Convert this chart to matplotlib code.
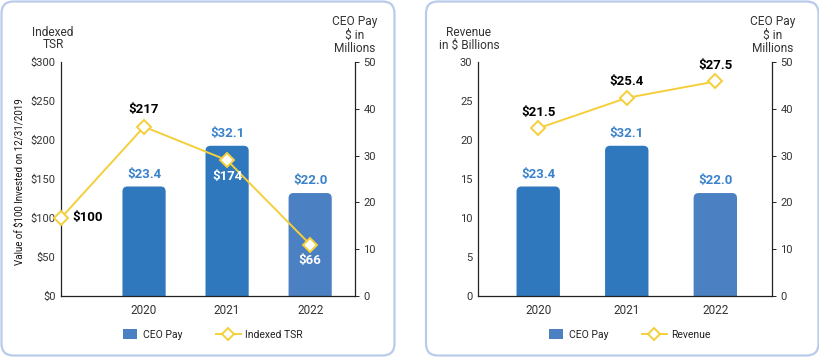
import matplotlib
matplotlib.use("Agg")
import matplotlib.pyplot as plt
from matplotlib.patches import FancyBboxPatch, Patch, Rectangle
from matplotlib.lines import Line2D
from matplotlib.legend_handler import HandlerPatch
from matplotlib.transforms import IdentityTransform
from matplotlib.ticker import FuncFormatter

plt.rcParams['font.family'] = ['Roboto', 'DejaVu Sans']
plt.rcParams['text.parse_math'] = False

# ---------------- data ----------------
pay_years = ['2020', '2021', '2022']
ceo_pay = [23.4, 32.1, 22.0]
tsr_years = ['2019', '2020', '2021', '2022']
tsr = [100, 217, 174, 66]
rev_years = ['2020', '2021', '2022']
revenue = [21.5, 25.4, 27.5]

left_ticks = [0, 50, 100, 150, 200, 250, 300]
rev_ticks = [0, 5, 10, 15, 20, 25, 30]
pay_ticks = [0, 10, 20, 30, 40, 50]

# ---------------- style ----------------
BAR_COLORS = ['#2F78BE', '#2F78BE', '#4B80C2']
LABEL_BLUE = '#3A82CA'
YELLOW = '#F5CF3A'
TXT = '#333333'
BORDER = '#B9CBEA'

W, H = 820, 357
fig = plt.figure(figsize=(W / 100, H / 100), dpi=100)

# panel borders
for x0, x1 in [(1.5, 394.5), (426, 818.5)]:
    fig.add_artist(FancyBboxPatch((x0, 1.5), x1 - x0, H - 3,
                                  boxstyle="round,pad=0,rounding_size=12",
                                  transform=IdentityTransform(),
                                  facecolor='white', edgecolor=BORDER, lw=1.6, zorder=-10))

def px_to_fig(x, y):
    return x / W, 1 - y / H

ax_top, ax_bot = 62, 296


def make_axes(xl, xr):
    ax = fig.add_axes([xl / W, 1 - ax_bot / H, (xr - xl) / W, (ax_bot - ax_top) / H])
    ax2 = ax.twinx()
    ax.set_zorder(ax2.get_zorder() + 1)
    ax.patch.set_visible(False)
    for a in (ax, ax2):
        for s in a.spines.values():
            s.set_visible(False)
    ax.spines['left'].set_visible(True)
    ax.spines['bottom'].set_visible(True)
    ax2.spines['right'].set_visible(True)
    for s in ('left', 'bottom'):
        ax.spines[s].set_color('#222222')
        ax.spines[s].set_linewidth(0.9)
    ax2.spines['right'].set_color('#222222')
    ax2.spines['right'].set_linewidth(0.9)
    ax.tick_params(axis='y', length=0, pad=4, labelsize=8, labelcolor=TXT)
    ax.tick_params(axis='x', length=0, pad=6, labelsize=8.5, labelcolor=TXT)
    ax2.tick_params(axis='y', length=3, width=0.7, color='#222222', pad=3, labelsize=8, labelcolor=TXT)
    return ax, ax2


def rounded_bars(ax2, xs, hs, width, colors, r_px, px_per_x, px_per_y):
    xu = 1.0 / px_per_x
    yu = 1.0 / px_per_y
    for x, h, c in zip(xs, hs, colors):
        ext = 2 * r_px * yu
        p = FancyBboxPatch((x - width / 2, -ext), width, h + ext,
                           boxstyle=f"round,pad=0,rounding_size={r_px * xu}",
                           mutation_aspect=yu / xu,
                           facecolor=c, edgecolor='none', clip_on=True, zorder=2)
        ax2.add_patch(p)


def small_rect(legend, orig_handle, xdescent, ydescent, width, height, fontsize):
    w, h = 10.0, 7.2
    return Rectangle((-xdescent + (width - w) / 2 + 3, -ydescent + (height - h) / 2), w, h)


def legend(ax, line_label):
    handles = [Patch(facecolor='#4B80C2', edgecolor='none', label='CEO Pay'),
               Line2D([0], [0], color=YELLOW, lw=1.4, marker='D', markersize=6.5,
                      markerfacecolor='white', markeredgecolor=YELLOW, markeredgewidth=1.4,
                      label=line_label)]
    ax.legend(handles=handles, loc='center', bbox_to_anchor=(0.5, -0.167), ncol=2,
              frameon=False, fontsize=7.5, handlelength=2.4, handleheight=0.9,
              columnspacing=3.2, handletextpad=0.4, labelcolor='#222222',
              handler_map={Patch: HandlerPatch(patch_func=small_rect)})


# ================= LEFT PANEL =================
axL, axL2 = make_axes(61, 355)
xpos_tsr = list(range(len(tsr_years)))
xlimL = (0, 3.54)
axL.set_xlim(*xlimL)
axL.set_ylim(0, 300)
axL2.set_ylim(0, 50)
axL.set_yticks(left_ticks)
axL.yaxis.set_major_formatter(FuncFormatter(lambda v, p: f'${int(v)}'))
axL2.set_yticks(pay_ticks)
bar_x_L = [tsr_years.index(y) for y in pay_years]
axL.set_xticks(bar_x_L)
axL.set_xticklabels(pay_years)

pxxL = 294 / (xlimL[1] - xlimL[0])
pxyL2 = 234 / 50
rounded_bars(axL2, bar_x_L, ceo_pay, 0.52, BAR_COLORS, 5, pxxL, pxyL2)
for x, v in zip(bar_x_L, ceo_pay):
    axL2.annotate(f'${v:.1f}', (x, v), xytext=(0, 4), textcoords='offset points',
                  ha='center', va='bottom', color=LABEL_BLUE, fontsize=9.5, fontweight='bold')

axL.plot(xpos_tsr, tsr, color=YELLOW, lw=1.4, marker='D', markersize=7,
         markerfacecolor='white', markeredgecolor=YELLOW, markeredgewidth=1.4,
         clip_on=False, zorder=5)
tsr_offsets = [(8, 0, 'left', 'center', 'black'),
               (0, 8, 'center', 'bottom', 'black'),
               (0, -7, 'center', 'top', 'white'),
               (0, -7, 'center', 'top', 'white')]
for x, v, (dx, dy, ha, va, c) in zip(xpos_tsr, tsr, tsr_offsets):
    axL.annotate(f'${v}', (x, v), xytext=(dx, dy), textcoords='offset points',
                 ha=ha, va=va, color=c, fontsize=9.5, fontweight='bold', zorder=6)

legend(axL, 'Indexed TSR')

fig.text(*px_to_fig(53, 38.5), 'Indexed\nTSR', ha='center', va='center',
         fontsize=8.6, color=TXT, linespacing=1.0)
fig.text(*px_to_fig(355, 35), 'CEO Pay\n$ in\nMillions', ha='center', va='center',
         fontsize=8.6, color=TXT, linespacing=1.0)
fig.text(*px_to_fig(20, 182), 'Value of $100 Invested on 12/31/2019', ha='center', va='center',
         rotation=90, fontsize=7, color='#111111')

# ================= RIGHT PANEL =================
axR, axR2 = make_axes(478, 772)
xpos_rev = list(range(len(rev_years)))
xlimR = (-0.68, 2.64)
axR.set_xlim(*xlimR)
axR.set_ylim(0, 30)
axR2.set_ylim(0, 50)
axR.set_yticks(rev_ticks)
axR2.set_yticks(pay_ticks)
axR.set_xticks(xpos_rev)
axR.set_xticklabels(rev_years)

pxxR = 294 / (xlimR[1] - xlimR[0])
rounded_bars(axR2, xpos_rev, ceo_pay, 0.49, BAR_COLORS, 5, pxxR, pxyL2)
for x, v in zip(xpos_rev, ceo_pay):
    axR2.annotate(f'${v:.1f}', (x, v), xytext=(0, 4), textcoords='offset points',
                  ha='center', va='bottom', color=LABEL_BLUE, fontsize=9.5, fontweight='bold')

axR.plot(xpos_rev, revenue, color=YELLOW, lw=1.4, marker='D', markersize=7,
         markerfacecolor='white', markeredgecolor=YELLOW, markeredgewidth=1.4,
         clip_on=False, zorder=5)
for x, v in zip(xpos_rev, revenue):
    axR.annotate(f'${v:.1f}', (x, v), xytext=(0, 7), textcoords='offset points',
                 ha='center', va='bottom', color='black', fontsize=9.5, fontweight='bold', zorder=6)

legend(axR, 'Revenue')

fig.text(*px_to_fig(469, 39), 'Revenue\nin $ Billions', ha='center', va='center',
         fontsize=8.6, color=TXT, linespacing=1.0)
fig.text(*px_to_fig(773, 35), 'CEO Pay\n$ in\nMillions', ha='center', va='center',
         fontsize=8.6, color=TXT, linespacing=1.0)

fig.savefig('out.png', dpi=100)
